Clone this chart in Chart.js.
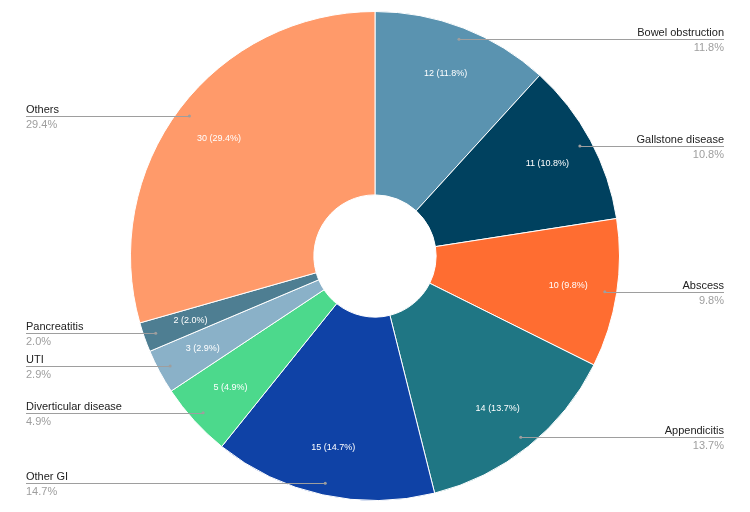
<!DOCTYPE html>
<html>
<head>
<meta charset="utf-8">
<script src="https://cdn.jsdelivr.net/npm/chart.js@4.4.0/dist/chart.umd.min.js"></script>
<style>
  html, body { margin: 0; padding: 0; background: #fff; }
  #wrap { width: 750px; height: 512px; }
</style>
</head>
<body>
<div id="wrap"><canvas id="pie"></canvas></div>
<script>
// categories clockwise from 12 o'clock
var labels = ['Bowel obstruction', 'Gallstone disease', 'Abscess', 'Appendicitis', 'Other GI',
              'Diverticular disease', 'UTI', 'Pancreatitis', 'Others'];
var counts = [12, 11, 10, 14, 15, 5, 3, 2, 30];
var colors = ['#5a93b0', '#00415f', '#ff6d31', '#1f7684', '#0f42a6',
              '#4cd98c', '#8ab1c8', '#4e7e92', '#ff9a6a'];

var total = counts.reduce(function (a, b) { return a + b; }, 0);
function pct(v) { return (v / total * 100).toFixed(1) + '%'; }

// draws the "n (p%)" text inside slices and the outside labels with leader lines
var sliceLabels = {
    id: 'sliceLabels',
    afterDatasetsDraw: function (chart) {
        var ctx = chart.ctx;
        var arcs = chart.getDatasetMeta(0).data;
        ctx.save();
        arcs.forEach(function (arc, i) {
            var mid = (arc.startAngle + arc.endAngle) / 2;
            var cx = arc.x, cy = arc.y, R = arc.outerRadius;
            var cos = Math.cos(mid), sin = Math.sin(mid);

            // inner value text
            ctx.font = '9px "Liberation Sans", Arial, sans-serif';
            ctx.fillStyle = '#ffffff';
            ctx.textAlign = 'center';
            ctx.textBaseline = 'middle';
            ctx.fillText(counts[i] + ' (' + pct(counts[i]) + ')', cx + cos * R * 0.8, cy + sin * R * 0.8);

            // leader line
            var dx = cx + cos * R * 0.951, dy = cy + sin * R * 0.951;
            var right = cos >= 0;
            var ex = right ? 724 : 26;
            ctx.strokeStyle = '#9e9e9e';
            ctx.lineWidth = 1;
            ctx.beginPath();
            ctx.moveTo(dx, Math.round(dy) + 0.5);
            ctx.lineTo(ex, Math.round(dy) + 0.5);
            ctx.stroke();
            ctx.fillStyle = '#9e9e9e';
            ctx.beginPath();
            ctx.arc(dx, dy, 1.5, 0, Math.PI * 2);
            ctx.fill();

            // name + percentage
            ctx.textAlign = right ? 'right' : 'left';
            ctx.textBaseline = 'alphabetic';
            ctx.font = '11px "Liberation Sans", Arial, sans-serif';
            ctx.fillStyle = '#222222';
            ctx.fillText(labels[i], ex, Math.round(dy) - 3);
            ctx.fillStyle = '#9e9e9e';
            ctx.fillText(pct(counts[i]), ex, Math.round(dy) + 12);
        });
        ctx.restore();
    }
};

new Chart(document.getElementById('pie'), {
    type: 'doughnut',
    data: {
        labels: labels,
        datasets: [{
            data: counts,
            backgroundColor: colors,
            borderColor: '#ffffff',
            borderWidth: 1
        }]
    },
    options: {
        responsive: true,
        maintainAspectRatio: false,
        animation: false,
        cutout: '25%',
        layout: { padding: { top: 11, bottom: 11 } },
        plugins: {
            legend: { display: false },
            tooltip: { enabled: false }
        }
    },
    plugins: [sliceLabels]
});
</script>
</body>
</html>
